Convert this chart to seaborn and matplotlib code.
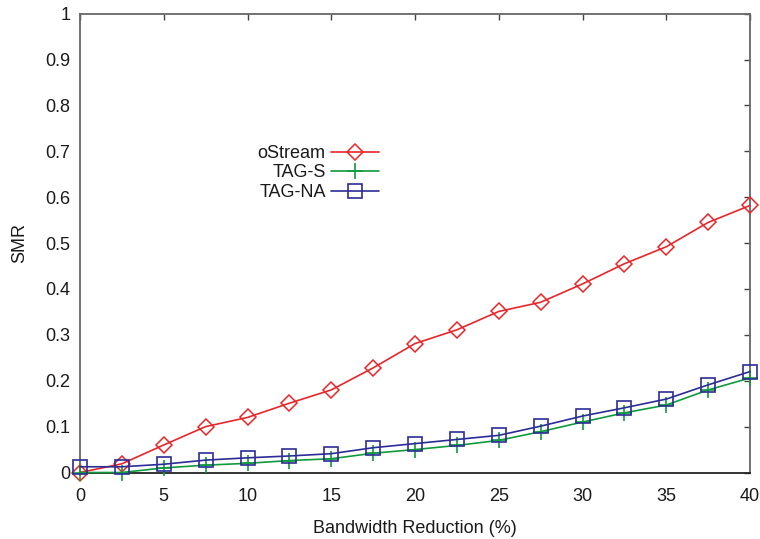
import numpy as np
import pandas as pd
import seaborn as sns
import matplotlib
matplotlib.use("Agg")
import matplotlib.pyplot as plt

# Bandwidth reduction levels (%)
reduction = [0, 2.5, 5, 7.5, 10, 12.5, 15, 17.5, 20, 22.5, 25, 27.5, 30, 32.5, 35, 37.5, 40]

# Stream miss ratio per scheme
ostream = [0.0, 0.019, 0.06, 0.10, 0.12, 0.151, 0.18, 0.228, 0.281, 0.311, 0.351, 0.371, 0.411, 0.455, 0.492, 0.545, 0.582]
tag_s = [0.0, 0.0, 0.01, 0.016, 0.02, 0.026, 0.03, 0.042, 0.05, 0.059, 0.07, 0.089, 0.11, 0.13, 0.147, 0.18, 0.206]
tag_na = [0.0125, 0.0125, 0.018, 0.027, 0.032, 0.036, 0.041, 0.054, 0.063, 0.072, 0.081, 0.101, 0.123, 0.141, 0.16, 0.191, 0.22]

series_names = ["oStream", "TAG-S", "TAG-NA"]
x_ticks = [0, 5, 10, 15, 20, 25, 30, 35, 40]
y_ticks = [0, 0.1, 0.2, 0.3, 0.4, 0.5, 0.6, 0.7, 0.8, 0.9, 1]
y_tick_labels = ["0", "0.1", "0.2", "0.3", "0.4", "0.5", "0.6", "0.7", "0.8", "0.9", "1"]

df = pd.DataFrame({
    "reduction": reduction * 3,
    "smr": ostream + tag_s + tag_na,
    "scheme": [series_names[0]] * len(reduction)
    + [series_names[1]] * len(reduction)
    + [series_names[2]] * len(reduction),
})

sns.set_style("white")
plt.rcParams["font.family"] = ["Liberation Sans", "DejaVu Sans"]

FS = 13

fig = plt.figure(figsize=(7.6, 5.39), dpi=100)
ax = fig.add_axes([80 / 760, 1 - 472.5 / 539, 670 / 760, (472.5 - 13.7) / 539])

styles = {
    "oStream": dict(color="#e8262a", marker="D", markersize=8.5, markerfacecolor="none",
                    markeredgewidth=1.1, markeredgecolor="#e8262a"),
    "TAG-S": dict(color="#109a3c", marker="+", markersize=11, markeredgewidth=1.2,
                  markeredgecolor="#109a3c"),
    "TAG-NA": dict(color="#2c2c96", marker="s", markersize=9.5, markerfacecolor="none",
                   markeredgewidth=1.2, markeredgecolor="#2c2c96"),
}

for name in series_names:
    sub = df[df["scheme"] == name]
    st = styles[name]
    sns.lineplot(data=sub, x="reduction", y="smr", ax=ax, label=name,
                 color=st["color"], linewidth=1.2, marker=st["marker"],
                 markersize=st["markersize"], markeredgewidth=st["markeredgewidth"],
                 markeredgecolor=st["markeredgecolor"],
                 markerfacecolor=st.get("markerfacecolor", st["color"]),
                 clip_on=False, zorder=3)

ax.set_xlim(0, 40)
ax.set_ylim(0, 1)
ax.set_xticks(x_ticks)
ax.set_xticklabels([str(t) for t in x_ticks])
ax.set_yticks(y_ticks)
ax.set_yticklabels(y_tick_labels)

ax.tick_params(direction="in", length=4.5, width=1.0, color="#444444",
               labelsize=FS, top=True, right=True, labelcolor="#1a1a1a")
ax.tick_params(axis="x", pad=11)
ax.tick_params(axis="y", pad=7)

for side in ["left", "top", "right"]:
    ax.spines[side].set_color("#666666")
    ax.spines[side].set_linewidth(1.3)
ax.spines["bottom"].set_color("#222222")
ax.spines["bottom"].set_linewidth(1.3)

ax.set_xlabel("Bandwidth Reduction (%)", fontsize=FS, labelpad=11, color="#1a1a1a")
ax.set_ylabel("SMR", fontsize=FS, labelpad=12, color="#1a1a1a")

# Legend: labels on the left, sample lines to the right
leg = ax.legend(loc="center right", bbox_to_anchor=(379 / 760, 1 - 173 / 539),
                bbox_transform=fig.transFigure, frameon=False, markerfirst=False,
                fontsize=FS, handlelength=2.65, handletextpad=0.3,
                labelspacing=0.14, borderpad=0, borderaxespad=0)
for t in leg.get_texts():
    t.set_ha("right")
    t.set_color("#1a1a1a")

fig.savefig("out.png", dpi=100)
